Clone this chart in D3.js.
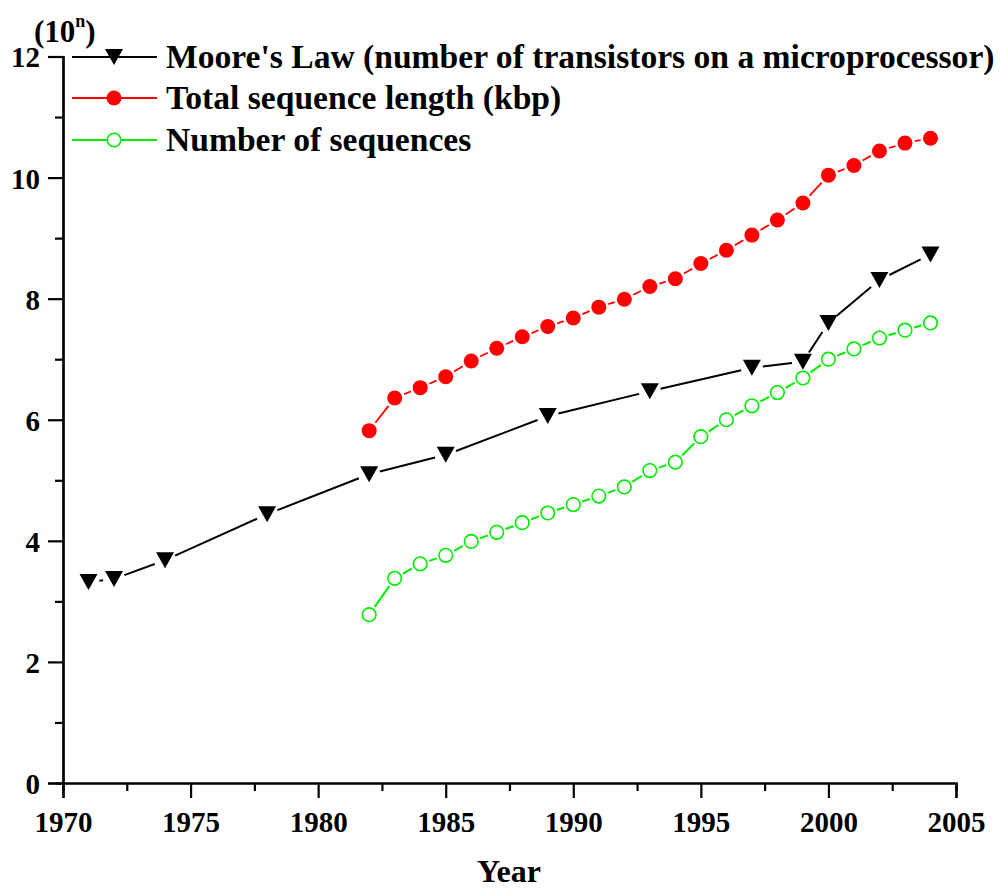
<!DOCTYPE html>
<html>
<head>
<meta charset="utf-8">
<script src="https://cdn.jsdelivr.net/npm/d3@7"></script>
<style>
  body { margin: 0; background: #fff; }
  text { font-family: "Liberation Serif", "Times New Roman", serif; font-weight: bold; fill: #000; }
</style>
</head>
<body>
<div id="chart"></div>
<script>
// values, in powers of ten
var mooreYears = [1971, 1972, 1974, 1978, 1982, 1985, 1989, 1993, 1997, 1999, 2000, 2002, 2004];
var mooreValues = [3.32, 3.37, 3.68, 4.44, 5.10, 5.42, 6.06, 6.47, 6.86, 6.96, 7.60, 8.31, 8.73];

var seqYears = [1982, 1983, 1984, 1985, 1986, 1987, 1988, 1989, 1990, 1991, 1992, 1993,
                1994, 1995, 1996, 1997, 1998, 1999, 2000, 2001, 2002, 2003, 2004];
var lengthValues = [5.82, 6.36, 6.53, 6.71, 6.97, 7.18, 7.37, 7.54, 7.68, 7.86, 7.99, 8.20,
                    8.33, 8.58, 8.80, 9.05, 9.30, 9.58, 10.04, 10.20, 10.44, 10.57, 10.65];
var countValues = [2.78, 3.38, 3.62, 3.76, 3.99, 4.14, 4.30, 4.46, 4.60, 4.74, 4.89, 5.16,
                   5.30, 5.72, 6.00, 6.23, 6.45, 6.69, 7.00, 7.17, 7.35, 7.48, 7.60];

var seriesNames = ["Moore's Law (number of transistors on a microprocessor)",
                   "Total sequence length (kbp)",
                   "Number of sequences"];
var xTicks = [1970, 1975, 1980, 1985, 1990, 1995, 2000, 2005];
var yTicks = [0, 2, 4, 6, 8, 10, 12];

var svgWidth = 1002, svgHeight = 889;
var margin = { left: 63, top: 56.5, right: 46, bottom: 106 };

var svg = d3.select("#chart").append("svg")
  .attr("width", svgWidth)
  .attr("height", svgHeight);

var x = d3.scaleLinear().domain([1970, 2005]).range([margin.left, svgWidth - margin.right]);
var y = d3.scaleLinear().domain([0, 12]).range([svgHeight - margin.bottom, margin.top]);

// axes: major ticks labelled, minor ticks halfway
var xAxis = d3.axisBottom(x).tickValues(xTicks).tickFormat(d3.format("d")).tickSize(15).tickPadding(13);
var xMinor = d3.axisBottom(x).tickValues(d3.range(1972.5, 2005, 5)).tickFormat("").tickSize(8);
var yAxis = d3.axisLeft(y).tickValues(yTicks).tickSize(15).tickPadding(8);
var yMinor = d3.axisLeft(y).tickValues(d3.range(1, 12, 2)).tickFormat("").tickSize(8);

function styleAxis(g) {
  g.selectAll("path").attr("stroke", "#000").attr("stroke-width", 2.2);
  g.selectAll("line").attr("stroke", "#000").attr("stroke-width", 2.2);
  g.selectAll("text").style("font-size", "29px").attr("fill", "#000");
}

svg.append("g").attr("transform", `translate(0,${y(0)})`).call(xMinor).call(styleAxis);
svg.append("g").attr("transform", `translate(0,${y(0)})`).call(xAxis).call(styleAxis);
svg.append("g").attr("transform", `translate(${x(1970)},0)`).call(yMinor).call(styleAxis);
svg.append("g").attr("transform", `translate(${x(1970)},0)`).call(yAxis).call(styleAxis)
  .selectAll(".tick text").attr("dy", "0.36em");

// unit label
var unit = svg.append("text").attr("x", 34).attr("y", 42).style("font-size", "31px");
unit.append("tspan").text("(10");
unit.append("tspan").attr("dy", -15).style("font-size", "18px").text("n");
unit.append("tspan").attr("dy", 15).text(")");

svg.append("text")
  .attr("x", 509)
  .attr("y", 882)
  .attr("text-anchor", "middle")
  .style("font-size", "32px")
  .text("Year");

// marker drawing
function triangle(g, cx, cy) {
  g.append("path")
    .attr("d", `M${cx - 9},${cy - 8}L${cx + 9},${cy - 8}L${cx},${cy + 8}Z`)
    .attr("fill", "#000");
}
function dot(g, cx, cy) {
  g.append("circle").attr("cx", cx).attr("cy", cy).attr("r", 7.5).attr("fill", "#ff0000");
}
function ring(g, cx, cy) {
  g.append("circle").attr("cx", cx).attr("cy", cy).attr("r", 6.8)
    .attr("fill", "#fff").attr("stroke", "#00ee00").attr("stroke-width", 1.6);
}

var series = [
  { years: mooreYears, values: mooreValues, color: "#000", width: 2, gap: 11, marker: triangle },
  { years: seqYears, values: lengthValues, color: "#ff0000", width: 1.8, gap: 10, marker: dot },
  { years: seqYears, values: countValues, color: "#00ee00", width: 2, gap: 9.5, marker: ring }
];

// connecting lines stop short of each marker
function drawSegments(g, pts, s) {
  for (var i = 0; i < pts.length - 1; i++) {
    var a = pts[i], b = pts[i + 1];
    var dx = b[0] - a[0], dy = b[1] - a[1];
    var len = Math.sqrt(dx * dx + dy * dy);
    if (len <= 2 * s.gap) continue;
    var ux = dx / len, uy = dy / len;
    g.append("line")
      .attr("x1", a[0] + ux * s.gap).attr("y1", a[1] + uy * s.gap)
      .attr("x2", b[0] - ux * s.gap).attr("y2", b[1] - uy * s.gap)
      .attr("stroke", s.color).attr("stroke-width", s.width);
  }
}

series.forEach(function(s) {
  var g = svg.append("g");
  var pts = s.years.map(function(d, i) { return [x(d), y(s.values[i])]; });
  drawSegments(g, pts, s);
  pts.forEach(function(p) { s.marker(g, p[0], p[1]); });
});

// legend
var legendRows = [57, 98, 140];
series.forEach(function(s, i) {
  var g = svg.append("g");
  var ly = legendRows[i];
  g.append("line").attr("x1", 72).attr("x2", 157).attr("y1", ly).attr("y2", ly)
    .attr("stroke", s.color).attr("stroke-width", s.width);
  s.marker(g, 114, ly);
  g.append("text").attr("x", 166).attr("y", ly).attr("dy", "0.34em")
    .style("font-size", "33.6px").text(seriesNames[i]);
});
</script>
</body>
</html>
